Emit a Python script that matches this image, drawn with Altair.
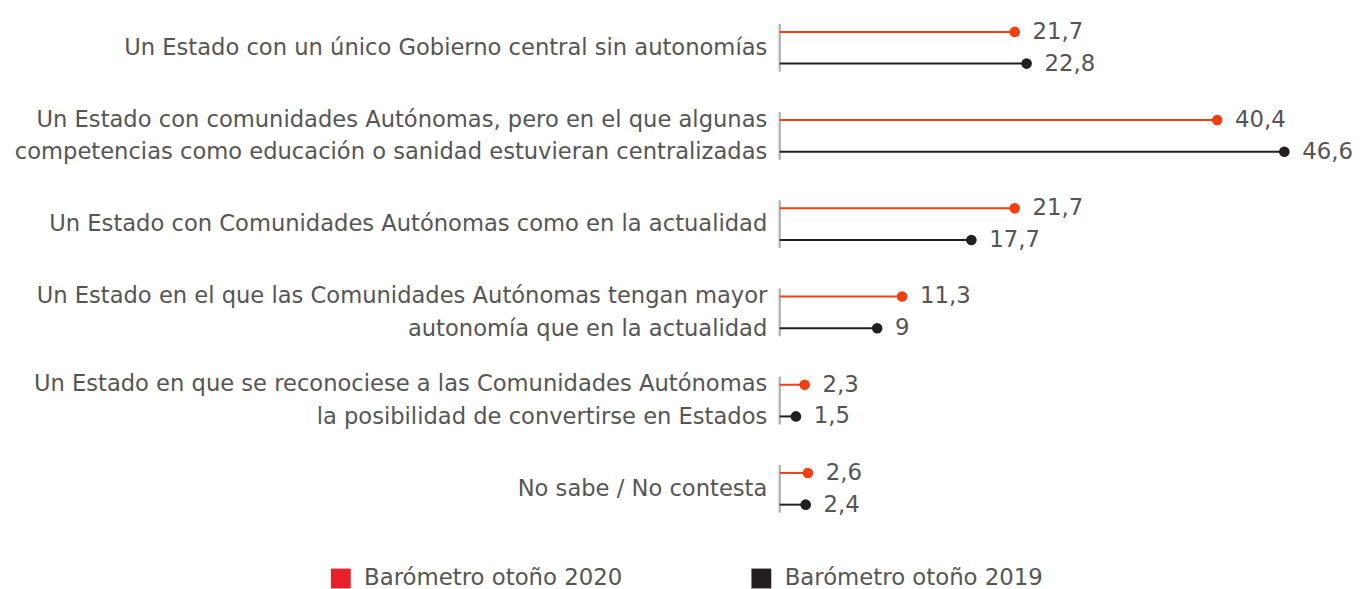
import altair as alt
import pandas as pd

categories = [
    "Un Estado con un único Gobierno central sin autonomías",
    "Un Estado con comunidades Autónomas, pero en el que algunas|competencias como educación o sanidad estuvieran centralizadas",
    "Un Estado con Comunidades Autónomas como en la actualidad",
    "Un Estado en el que las Comunidades Autónomas tengan mayor|autonomía que en la actualidad",
    "Un Estado en que se reconociese a las Comunidades Autónomas|la posibilidad de convertirse en Estados",
    "No sabe / No contesta",
]
series = ["Barómetro otoño 2020", "Barómetro otoño 2019"]
values_2020 = [21.7, 40.4, 21.7, 11.3, 2.3, 2.6]
values_2019 = [22.8, 46.6, 17.7, 9.0, 1.5, 2.4]

rows = []
for c, v in zip(categories, values_2020):
    rows.append({"cat": c, "serie": series[0], "v": v})
for c, v in zip(categories, values_2019):
    rows.append({"cat": c, "serie": series[1], "v": v})
df = pd.DataFrame(rows)
df["lab"] = df["v"].map(lambda x: (f"{x:g}").replace(".", ","))
df["zero"] = 0.0

FONT = "DejaVu Sans"
TXT = "#555555"
FS = 22.8

y_enc = alt.Y(
    "cat:N",
    sort=categories,
    scale=alt.Scale(paddingInner=0.4, paddingOuter=0),
    axis=alt.Axis(
        title=None, domain=False, ticks=False, labelPadding=13,
        labelExpr="split(datum.label, '|')", labelLimit=1000,
        labelFontSize=FS, labelColor=TXT, labelFont=FONT, labelLineHeight=33,
        labelOffset=alt.condition("indexof(datum.value, '|') >= 0", alt.value(-16.5), alt.value(0)),
    ),
)
yoff = alt.YOffset("serie:N", sort=series, scale=alt.Scale(paddingInner=0.33, paddingOuter=0))
xscale = alt.Scale(domain=[0, 48], nice=False)
x_enc = alt.X("v:Q", scale=xscale, axis=None)
x0_enc = alt.X("zero:Q", scale=xscale, axis=None)
col = alt.Color("serie:N", sort=series,
                scale=alt.Scale(domain=series, range=["#F0400F", "#231F20"]), legend=None)

base = alt.Chart(df)

axis_ticks = base.mark_tick(color="#A6A6A6", thickness=2, size=48).encode(
    x=x0_enc, y=y_enc
)
rules = base.mark_rule(strokeWidth=2).encode(
    x=x0_enc, x2="v:Q", y=y_enc, yOffset=yoff, color=col
)
dots = base.mark_circle(size=115, opacity=1).encode(
    x=x_enc, y=y_enc, yOffset=yoff, color=col
)
labels = base.mark_text(align="left", baseline="middle", dx=18, fontSize=23,
                        font=FONT, color=TXT).encode(
    x=x_enc, y=y_enc, yOffset=yoff, text="lab:N"
)
legend_layer = base.mark_square(opacity=0).encode(
    x=x0_enc, y=y_enc,
    color=alt.Color("serie:N", sort=series,
                    scale=alt.Scale(domain=series, range=["#E8202A", "#231F20"]),
                    legend=alt.Legend(
                        title=None, orient="none", direction="horizontal",
                        legendX=-454, legendY=550, symbolType="square",
                        symbolSize=400, symbolOpacity=1, symbolStrokeWidth=0,
                        labelFontSize=23, labelFont=FONT, labelColor=TXT,
                        columnPadding=128, labelOffset=12, labelLimit=500,
                    )),
)

chart = (
    alt.layer(axis_ticks, rules, dots, labels, legend_layer)
    .resolve_scale(color="independent")
    .properties(width=524, height=498, padding={"left": 6, "top": 10, "right": 5, "bottom": 2})
    .configure_view(stroke=None)
)

chart.save("out.html", embed_options={"renderer": "svg", "actions": False})
